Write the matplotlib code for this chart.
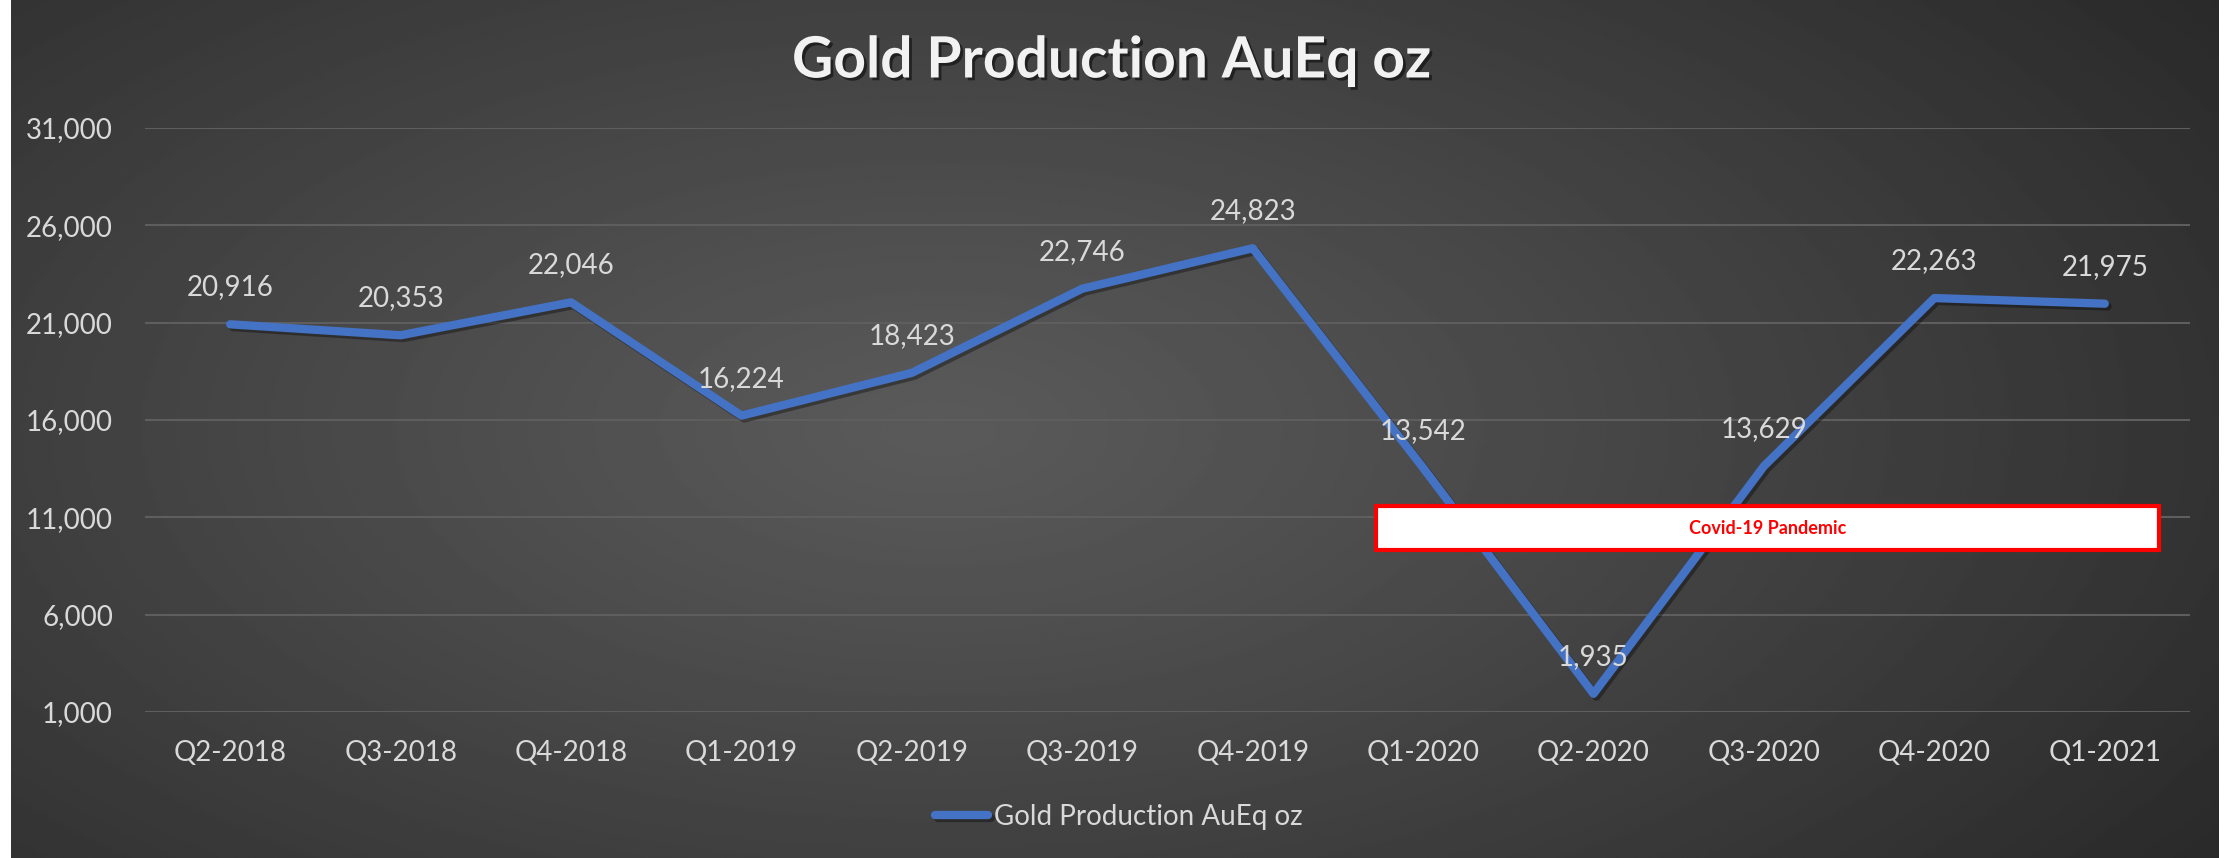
import matplotlib
matplotlib.use("Agg")
import matplotlib.pyplot as plt
import matplotlib.patheffects as pe
from matplotlib.patches import Rectangle
from matplotlib.ticker import FuncFormatter
import numpy as np

quarters = ["Q2-2018", "Q3-2018", "Q4-2018", "Q1-2019", "Q2-2019", "Q3-2019",
            "Q4-2019", "Q1-2020", "Q2-2020", "Q3-2020", "Q4-2020", "Q1-2021"]
production = [20916, 20353, 22046, 16224, 18423, 22746,
              24823, 13542, 1935, 13629, 22263, 21975]
y_ticks = [1000, 6000, 11000, 16000, 21000, 26000, 31000]

title = "Gold Production AuEq oz"
series_name = "Gold Production AuEq oz"
note = "Covid-19 Pandemic"

plt.rcParams["font.family"] = ["Lato", "DejaVu Sans"]
txt_color = "#d9d9d9"
line_color = "#4472c4"

fig = plt.figure(figsize=(22.24, 8.58), dpi=100)
fig.patch.set_facecolor("white")

# radial gradient background of the chart area
bg = fig.add_axes([11 / 2224, 0, (2219 - 11) / 2224, 1.0], zorder=-10)
gx, gy = np.meshgrid(np.linspace(0, 1, 600), np.linspace(0, 1, 300))
r = np.sqrt(((gx - 0.42) / 0.75) ** 2 + ((gy - 0.5) / 0.95) ** 2)
r = np.clip(r, 0, 1)
light, dark = 0x5a / 255, 0x26 / 255
shade = light + (dark - light) * r ** 1.1
bg.imshow(shade, cmap="gray", vmin=0, vmax=1, aspect="auto",
          extent=[0, 1, 0, 1], interpolation="bilinear")
bg.set_axis_off()

ax = fig.add_axes([145 / 2224, 1 - 712 / 858, (2190 - 145) / 2224, (712 - 128) / 858])
ax.set_facecolor("none")

x = np.arange(len(quarters))
ax.plot(x, production, color=line_color, linewidth=6, solid_capstyle="round",
        solid_joinstyle="round", label=series_name, zorder=3,
        path_effects=[pe.SimpleLineShadow(offset=(2, -2), shadow_color="black", alpha=0.35),
                      pe.Normal()])

for xi, v in zip(x, production):
    ax.annotate(f"{v:,}", (xi, v), xytext=(0, 37), textcoords="offset pixels",
                ha="center", va="center", fontsize=20, color=txt_color, zorder=4)

ax.set_xlim(-0.5, len(quarters) - 0.5)
ax.set_ylim(1000, 31000)
ax.set_yticks(y_ticks)
ax.yaxis.set_major_formatter(FuncFormatter(lambda v, p: f"{int(v):,}"))
ax.set_xticks(x)
ax.set_xticklabels(quarters)
ax.tick_params(axis="both", length=0, labelsize=20, colors=txt_color)
ax.tick_params(axis="x", pad=20)
ax.tick_params(axis="y", pad=23)
ax.grid(axis="y", color="#5e5e5e", linewidth=1.5, zorder=1)
for s in ax.spines.values():
    s.set_visible(False)

fig.text(0.5, 1 - 61 / 858, title, ha="center", va="center", fontsize=41,
         fontweight="bold", color="#f2f2f2",
         path_effects=[pe.withSimplePatchShadow(offset=(2, -2), shadow_rgbFace="black", alpha=0.5)])

# annotation box
bx0, bx1 = 1376 / 2224, 2159 / 2224
by0, by1 = 1 - 550 / 858, 1 - 506 / 858
fig.add_artist(Rectangle((bx0, by0), bx1 - bx0, by1 - by0, transform=fig.transFigure,
                         facecolor="white", edgecolor="#ff0000", linewidth=3, zorder=10))
fig.text((bx0 + bx1) / 2, (by0 + by1) / 2, note, ha="center", va="center",
         fontsize=13, fontweight="bold", color="#ff0000", zorder=11)

leg = fig.legend(loc="center", bbox_to_anchor=(0.503, 1 - 817 / 858), frameon=False,
                 fontsize=20, handlelength=1.9, handletextpad=0.2)
for t in leg.get_texts():
    t.set_color(txt_color)

fig.savefig("out.png", dpi=100, facecolor=fig.get_facecolor())
